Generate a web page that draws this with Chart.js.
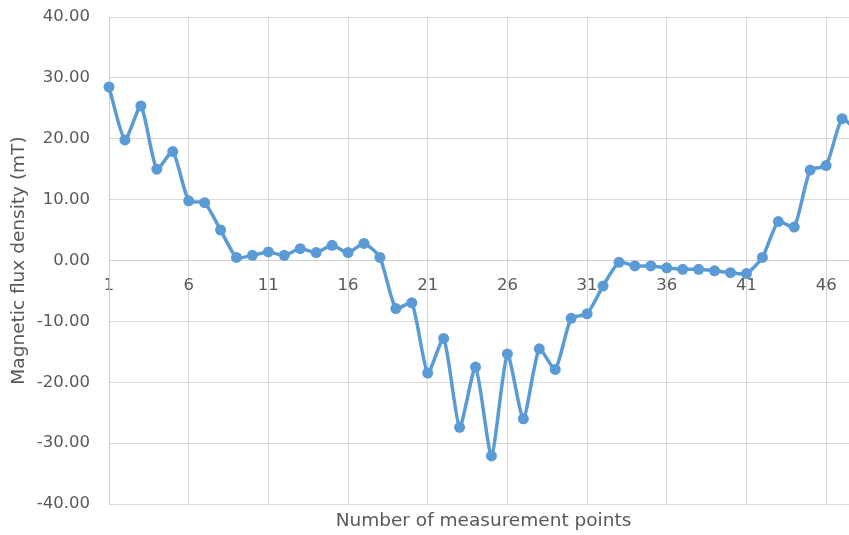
<!DOCTYPE html>
<html>
<head>
<meta charset="utf-8">
<script src="https://cdn.jsdelivr.net/npm/chart.js@4/dist/chart.umd.min.js"></script>
<style>
  html, body { margin: 0; padding: 0; background: #fff; overflow: hidden; }
  #wrap { width: 849px; height: 535px; overflow: hidden; }
</style>
</head>
<body>
<div id="wrap"><canvas id="chart" width="880" height="535"></canvas></div>
<script>
const pointLabels = [
    '1', '2', '3', '4', '5', '6', '7', '8', '9', '10',
    '11', '12', '13', '14', '15', '16', '17', '18', '19', '20',
    '21', '22', '23', '24', '25', '26', '27', '28', '29', '30',
    '31', '32', '33', '34', '35', '36', '37', '38', '39', '40',
    '41', '42', '43', '44', '45', '46', '47', '48'
];

const fluxValues = [
    28.5, 19.8, 25.4, 15.0, 17.9, 9.8, 9.5, 5.0, 0.5, 0.85,
    1.4, 0.85, 1.95, 1.3, 2.5, 1.3, 2.8, 0.5, -7.9, -6.95,
    -18.5, -12.8, -27.4, -17.5, -32.1, -15.35, -26.0, -14.5, -17.9, -9.5,
    -8.75, -4.2, -0.3, -0.9, -0.9, -1.2, -1.45, -1.45, -1.7, -2.0,
    -2.15, 0.5, 6.4, 5.5, 14.85, 15.6, 23.3, 21.0
];

const yMin = -40;
const yMax = 40;
const yStep = 10;
const labelEvery = 5;

const BLUE = '#5b9bd5';
const GRID = '#d9d9d9';
const TEXT = '#595959';
const FONT = 'DejaVu Sans';

const ctx = document.getElementById('chart');

new Chart(ctx, {
    type: 'line',
    data: {
        labels: pointLabels,
        datasets: [{
            data: fluxValues,
            borderColor: BLUE,
            backgroundColor: BLUE,
            borderWidth: 3.5,
            pointRadius: 5.5,
            pointBorderWidth: 0,
            pointBackgroundColor: BLUE,
            tension: 0.2,
            clip: false
        }]
    },
    options: {
        responsive: false,
        animation: false,
        devicePixelRatio: 1,
        layout: { padding: { top: 17, right: 22, left: 0, bottom: 0 } },
        plugins: {
            legend: { display: false },
            tooltip: { enabled: false }
        },
        scales: {
            x: {
                type: 'category',
                position: { y: 0 },
                grid: {
                    drawTicks: false,
                    color: c => (c.index % labelEvery === 0 ? GRID : 'rgba(0,0,0,0)')
                },
                border: { color: '#cfcfcf' },
                ticks: {
                    autoSkip: false,
                    maxRotation: 0,
                    padding: 15,
                    color: TEXT,
                    font: { family: FONT, size: 16.5 },
                    callback: function (val, i) {
                        return i % labelEvery === 0 ? this.getLabelForValue(val) : '';
                    }
                },
                afterFit: s => { s.height = 0; }
            },
            x2: {
                type: 'category',
                position: 'bottom',
                grid: { display: false },
                border: { display: false },
                ticks: { display: false },
                title: {
                    display: true,
                    text: 'Number of measurement points',
                    color: TEXT,
                    font: { family: FONT, size: 18.5 },
                    padding: { top: 0, bottom: 2.6 }
                },
                afterFit: s => { s.height = 31; }
            },
            y: {
                min: yMin,
                max: yMax,
                grid: { drawTicks: false, color: GRID },
                border: { color: '#cfcfcf' },
                ticks: {
                    stepSize: yStep,
                    padding: 19,
                    color: TEXT,
                    font: { family: FONT, size: 16.5 },
                    callback: v => v.toFixed(2)
                },
                title: {
                    display: true,
                    text: 'Magnetic flux density (mT)',
                    color: TEXT,
                    font: { family: FONT, size: 18.5 },
                    padding: { top: 8, bottom: 0 }
                },
                afterFit: s => {
                    s.width = 109;
                    s.paddingTop = 0;
                    s.paddingBottom = 0;
                }
            }
        }
    }
});
</script>
</body>
</html>
